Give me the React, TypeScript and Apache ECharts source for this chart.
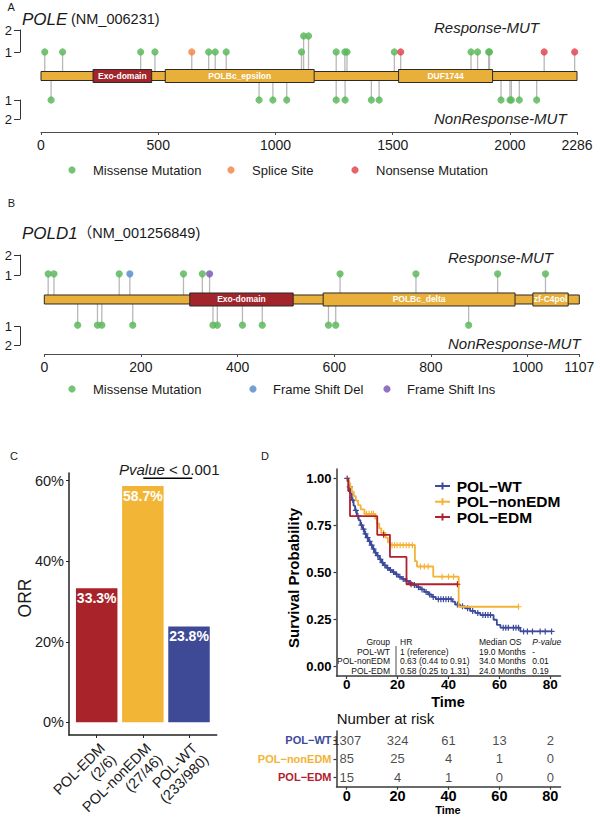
import React, { useEffect, useRef } from 'react';
import * as echarts from 'echarts';

const FONT = '"Liberation Sans", Arial, Helvetica, "Noto Sans CJK SC", sans-serif';

// ---------- Panel A : POLE ----------
const poleLength = 2286;
const poleTicks = [0, 500, 1000, 1500, 2000, 2286];
const poleDomainStart = [222, 530, 1525];
const poleDomainEnd = [472, 1165, 1926];
const poleDomainName = ['Exo-domain', 'POLBc_epsilon', 'DUF1744'];
const poleRespPos = [16, 92, 425, 486, 643, 715, 743, 790, 1111, 1120, 1141, 1259, 1296, 1305, 1507, 1534, 1834, 1862, 1909, 1913, 2146, 2276];
const poleRespCount = [1, 1, 1, 1, 1, 1, 1, 1, 1, 2, 2, 1, 1, 1, 1, 1, 1, 1, 1, 1, 1, 1];
const poleRespType = [0, 0, 0, 0, 1, 0, 0, 0, 0, 0, 0, 0, 0, 0, 0, 2, 0, 0, 0, 0, 2, 2];
const poleNonPos = [43, 930, 989, 1048, 1259, 1297, 1409, 1442, 1962, 2000, 2006, 2040, 2114];
const poleNonCount = [1, 1, 1, 1, 1, 1, 1, 1, 1, 1, 1, 1, 1];
const poleNonType = [0, 0, 0, 0, 0, 0, 0, 0, 0, 0, 0, 0, 0];

// ---------- Panel B : POLD1 ----------
const pold1Length = 1107;
const pold1Ticks = [0, 200, 400, 600, 800, 1000, 1107];
const pold1DomainStart = [301, 577, 1011];
const pold1DomainEnd = [515, 974, 1084];
const pold1DomainName = ['Exo-domain', 'POLBc_delta', 'zf-C4pol'];
const pold1RespPos = [8, 20, 155, 177, 288, 327, 342, 612, 769, 938, 1037];
const pold1RespCount = [1, 1, 1, 1, 1, 1, 1, 1, 1, 1, 1];
const pold1RespType = [0, 0, 0, 3, 0, 0, 4, 0, 0, 0, 0];
const pold1NonPos = [69, 110, 119, 183, 349, 358, 410, 451, 588, 603, 878];
const pold1NonCount = [1, 1, 1, 1, 1, 1, 1, 1, 1, 1, 1];
const pold1NonType = [0, 0, 0, 0, 0, 0, 0, 0, 0, 0, 0];

const mutTypes = ['Missense Mutation', 'Splice Site', 'Nonsense Mutation', 'Frame Shift Del', 'Frame Shift Ins'];
const mutColors = ['#5DB85D', '#F4874B', '#E4464F', '#5B8FCB', '#8059B8'];

// ---------- Panel C : ORR ----------
const cCategories = ['POL-EDM\n(2/6)', 'POL-nonEDM\n(27/46)', 'POL-WT\n(233/980)'];
const cValues = [33.3, 58.7, 23.8];
const cTicks = [0, 20, 40, 60];
const groupColors = ['#A9232A', '#F2B536', '#3E4A96'];

// ---------- Panel D : Kaplan-Meier ----------
const wtTime = [0, 0.4, 0.9, 1.4, 2.0, 2.7, 3.3, 4.0, 4.7, 5.4, 6.2, 7.0, 7.8, 8.6, 9.4, 10.2, 11.0, 11.9, 12.8, 13.7, 14.6, 15.6, 16.7, 17.9, 19.0, 20.3, 21.6, 23.0, 24.5, 26.0, 27.5, 29.0, 30.5, 32.0, 33.5, 35.0, 41.5, 42.6, 44.5, 46.5, 48.5, 50.5, 52.5, 57.7, 59.0, 60.4, 68.2, 80.5];
const wtSurv = [1.0, 0.985, 0.955, 0.92, 0.885, 0.855, 0.83, 0.8, 0.778, 0.752, 0.73, 0.705, 0.685, 0.665, 0.645, 0.625, 0.605, 0.59, 0.57, 0.553, 0.538, 0.525, 0.513, 0.502, 0.49, 0.477, 0.466, 0.455, 0.444, 0.433, 0.422, 0.41, 0.397, 0.383, 0.37, 0.358, 0.345, 0.33, 0.32, 0.31, 0.296, 0.285, 0.274, 0.249, 0.222, 0.207, 0.187, 0.187];
const wtCensor = [0.2, 1.2, 2.4, 3.6, 4.4, 5.8, 6.6, 7.4, 8.2, 9.0, 9.8, 10.6, 11.4, 12.2, 13.2, 14.1, 15.0, 16.1, 17.2, 18.4, 19.6, 20.9, 22.2, 23.6, 25.0, 26.6, 28.2, 29.6, 31.2, 32.6, 34.0, 36.0, 37.0, 38.0, 39.0, 40.0, 41.0, 43.5, 45.5, 47.5, 49.5, 51.5, 53.5, 54.5, 55.5, 56.5, 61.5, 62.5, 63.5, 65.5, 66.5, 67.5, 69.5, 71, 73, 76, 78, 80.5];
const nonEdmTime = [0, 0.8, 1.4, 2.0, 2.8, 3.6, 4.5, 5.5, 7.0, 11.2, 12.0, 12.8, 13.6, 15.2, 16.2, 17.0, 26.8, 27.6, 34.0, 44.0, 67.5];
const nonEdmSurv = [1.0, 0.976, 0.953, 0.929, 0.906, 0.882, 0.858, 0.835, 0.812, 0.786, 0.76, 0.735, 0.71, 0.685, 0.66, 0.645, 0.56, 0.532, 0.478, 0.318, 0.318];
const nonEdmCensor = [7.8, 8.8, 9.8, 10.5, 14.5, 17.8, 18.8, 19.8, 21.0, 22.2, 23.4, 24.5, 25.8, 29.0, 30.5, 32.0, 37.5, 40.0, 42.0, 67.5];
const edmTime = [0, 0.6, 1.3, 12.0, 17.0, 23.5, 43.5];
const edmSurv = [1.0, 0.933, 0.8, 0.7, 0.583, 0.4375, 0.4375];
const edmCensor = [14.5, 25.3, 43.5];
const kmNames = ['POL\u2212WT', 'POL\u2212nonEDM', 'POL\u2212EDM'];
const kmXTicks = [0, 20, 40, 60, 80];
const kmYTicks = [0, 0.25, 0.5, 0.75, 1];

const tblGroup = ['Group', 'POL-WT', 'POL-nonEDM', 'POL-EDM'];
const tblHR = ['HR', '1 (reference)', '0.63 (0.44 to 0.91)', '0.58 (0.25 to 1.31)'];
const tblMedian = ['Median OS', '19.0 Months', '34.0 Months', '24.0 Months'];
const tblP = ['P-value', '-', '0.01', '0.19'];

const riskTimes = [0, 20, 40, 60, 80];
const riskWT = [1307, 324, 61, 13, 2];
const riskNonEdm = [85, 25, 4, 1, 0];
const riskEdm = [15, 4, 1, 0, 0];
const kmColors = ['#3C4A9C', '#F4B334', '#B2202C'];

const survAt = (times: number[], surv: number[], t: number) => {
  let s = surv[0];
  for (let i = 0; i < times.length; i++) if (times[i] <= t) s = surv[i];
  return s;
};

const PLUS = 'path://M4,0 H6 V4 H10 V6 H6 V10 H4 V6 H0 V4 H4 Z';

function proteinSeries(g: number, length: number, starts: number[], ends: number[], names: string[], domColors: string[]) {
  const data: number[][] = [[0, length, -1]];
  starts.forEach((s, i) => data.push([s, ends[i], i]));
  return {
    type: 'custom', xAxisIndex: g, yAxisIndex: g, z: 3, silent: true,
    data,
    renderItem: (params: any, api: any) => {
      const idx = api.value(2);
      const s = api.coord([api.value(0), 0]);
      const e = api.coord([api.value(1), 0]);
      const h = idx < 0 ? 9 : 13;
      const children: any[] = [{
        type: 'rect',
        shape: { x: s[0], y: s[1] - h / 2, width: e[0] - s[0], height: h },
        style: { fill: idx < 0 ? '#E9AF3B' : domColors[idx], stroke: '#2a2a2a', lineWidth: 1 },
      }];
      if (idx >= 0) {
        children.push({
          type: 'text', x: (s[0] + e[0]) / 2, y: s[1],
          style: { text: names[idx], fill: '#fff', fontSize: 8.5, fontWeight: 'bold', fontFamily: FONT, align: 'center', verticalAlign: 'middle' },
        });
      }
      return { type: 'group', children };
    },
  };
}

function mutData(pos: number[], count: number[], type: number[], side: number) {
  return pos.map((p, i) => [p, side, count[i], type[i]]);
}

function stemSeries(g: number, data: number[][]) {
  return {
    type: 'custom', xAxisIndex: g, yAxisIndex: g, z: 1, silent: true, data,
    renderItem: (params: any, api: any) => {
      const side = api.value(1);
      const base = api.coord([api.value(0), 0]);
      const lvl = api.coord([api.value(0), side]);
      const y = lvl[1] - side * (api.value(2) - 1) * 16;
      return {
        type: 'line',
        shape: { x1: base[0], y1: base[1] - side * 4.5, x2: base[0], y2: y },
        style: { stroke: '#B8B8B8', lineWidth: 1.3 },
      };
    },
  };
}

function dotSeries(g: number, data: number[][]) {
  return {
    type: 'custom', xAxisIndex: g, yAxisIndex: g, z: 5, silent: true, data,
    renderItem: (params: any, api: any) => {
      const side = api.value(1);
      const lvl = api.coord([api.value(0), side]);
      const y = lvl[1] - side * (api.value(2) - 1) * 16;
      return {
        type: 'circle',
        shape: { cx: lvl[0], cy: y, r: 3.6 },
        style: { fill: mutColors[api.value(3)], opacity: 0.85 },
      };
    },
  };
}

const hiddenX = (g: number) => ({ type: 'value', gridIndex: g, min: 0, max: 1, show: false });
const bracketY = (g: number, inverse: boolean) => ({
  type: 'value', gridIndex: g, min: 1, max: 2, interval: 1, inverse,
  axisLine: { show: true, onZero: false, lineStyle: { color: '#333', width: 1 } },
  axisTick: { show: true, length: 6, lineStyle: { color: '#333', width: 1 } },
  axisLabel: { show: true, fontSize: 13, color: '#1a1a1a', margin: 8, fontFamily: FONT, showMinLabel: true, showMaxLabel: true },
  splitLine: { show: false },
});
const protX = (g: number, max: number, ticks: number[]) => ({
  type: 'value', gridIndex: g, min: 0, max,
  axisLine: { show: true, onZero: false, lineStyle: { color: '#4d4d4d', width: 1 } },
  axisTick: { show: true, length: 3, customValues: ticks, lineStyle: { color: '#4d4d4d', width: 1 } },
  axisLabel: { show: true, customValues: ticks, formatter: (v: number) => String(v), fontSize: 14, color: '#1a1a1a', margin: 6, fontFamily: FONT },
  splitLine: { show: false },
});

const txt = (x: number, y: number, text: string, o: any = {}, extra: any = {}) => ({
  type: 'text', x, y, silent: true, ...extra,
  style: { text, fontFamily: FONT, fontSize: 13, fill: '#1a1a1a', align: 'left', verticalAlign: 'middle', ...o },
});
const dot = (cx: number, cy: number, color: string) => ({
  type: 'circle', silent: true, shape: { cx, cy, r: 3.6 }, style: { fill: color, opacity: 0.85 },
});

function buildOption() {
  const graphics: any[] = [];
  // panel letters
  graphics.push(txt(7.5, 7, 'A', { fontSize: 11 }));
  graphics.push(txt(7.8, 203, 'B', { fontSize: 11 }));
  graphics.push(txt(14, 456, 'C', { fontSize: 11, align: 'center' }));
  graphics.push(txt(265, 456, 'D', { fontSize: 11, align: 'center' }));
  // titles
  graphics.push(txt(22, 19, '{a|POLE} {b|(NM_006231)}', {
    rich: {
      a: { fontSize: 17, fontStyle: 'italic', fontFamily: FONT, fill: '#1a1a1a' },
      b: { fontSize: 14.5, fontFamily: FONT, fill: '#1a1a1a' },
    },
  }));
  graphics.push(txt(22, 233, '{a|POLD1}{b|\uFF08NM_001256849)}', {
    rich: {
      a: { fontSize: 17, fontStyle: 'italic', fontFamily: FONT, fill: '#1a1a1a' },
      b: { fontSize: 14.5, fontFamily: FONT, fill: '#1a1a1a' },
    },
  }));
  // response labels
  const it = { fontSize: 15, fontStyle: 'italic', fill: '#222' };
  graphics.push(txt(434, 27, 'Response-MUT', it));
  graphics.push(txt(434, 118, 'NonResponse-MUT', it));
  graphics.push(txt(448, 257, 'Response-MUT', it));
  graphics.push(txt(448, 343, 'NonResponse-MUT', it));
  // legends A
  const legA = [[72, 93, 0], [231, 252, 1], [355, 376, 2]];
  legA.forEach(([dx, tx, t]) => {
    graphics.push(dot(dx, 170, mutColors[t]));
    graphics.push(txt(tx, 170, mutTypes[t], { fontSize: 13 }));
  });
  const legB = [[72, 93, 0], [253, 273, 3], [387, 407, 4]];
  legB.forEach(([dx, tx, t]) => {
    graphics.push(dot(dx, 389, mutColors[t]));
    graphics.push(txt(tx, 389, mutTypes[t], { fontSize: 13 }));
  });
  // panel C annotations
  graphics.push(txt(25, 598, 'ORR', { fontSize: 17.5, align: 'center' }, { rotation: Math.PI / 2 }));
  graphics.push(txt(119, 469, '{i|Pvalue} < 0.001', {
    fontSize: 15, rich: { i: { fontStyle: 'italic', fontSize: 15, fontFamily: FONT, fill: '#1a1a1a' } },
  }));
  graphics.push({ type: 'line', silent: true, shape: { x1: 143.3, y1: 478.3, x2: 192.3, y2: 478.3 }, style: { stroke: '#000', lineWidth: 1.6 } });
  // panel D
  graphics.push(txt(293, 578, 'Survival Probability', { fontSize: 15, fontWeight: 'bold', fill: '#000', align: 'center' }, { rotation: Math.PI / 2 }));
  graphics.push(txt(448, 701.5, 'Time', { fontSize: 14.5, fontWeight: 'bold', fill: '#000', align: 'center' }));
  const legY = [486, 501.7, 517];
  kmNames.forEach((n, i) => {
    graphics.push({ type: 'line', silent: true, shape: { x1: 435, y1: legY[i], x2: 450, y2: legY[i] }, style: { stroke: kmColors[i], lineWidth: 2 } });
    graphics.push({ type: 'line', silent: true, shape: { x1: 442.5, y1: legY[i] - 3.5, x2: 442.5, y2: legY[i] + 3.5 }, style: { stroke: kmColors[i], lineWidth: 2 } });
    graphics.push(txt(456.7, legY[i], n, { fontSize: 15.5, fontWeight: 'bold', fill: '#000' }));
  });
  const rowY = [642, 651.7, 661.3, 671];
  const tf = { fontSize: 8.5, fill: '#111' };
  rowY.forEach((y, i) => {
    graphics.push(txt(390, y, tblGroup[i], { ...tf, align: 'right' }));
    graphics.push(txt(400, y, tblHR[i], tf));
    graphics.push(txt(479, y, tblMedian[i], tf));
    graphics.push(txt(532.3, y, tblP[i], i === 0 ? { ...tf, fontStyle: 'italic' } : tf));
  });
  graphics.push({ type: 'line', silent: true, shape: { x1: 396, y1: 646, x2: 396, y2: 675.5 }, style: { stroke: '#222', lineWidth: 0.8 } });
  graphics.push(txt(336.7, 718.3, 'Number at risk', { fontSize: 15, fill: '#111' }));
  graphics.push(txt(448, 809.8, 'Time', { fontSize: 11, fontWeight: 'bold', fill: '#000', align: 'center' }));

  const kmAxisLine = { show: true, onZero: false, lineStyle: { color: '#3a3a3a', width: 1.5 } };
  const kmTick = { show: true, length: 3, lineStyle: { color: '#3a3a3a', width: 1.2 } };

  const kmSeries: any[] = [];
  const kmSets = [
    [wtTime, wtSurv, wtCensor],
    [nonEdmTime, nonEdmSurv, nonEdmCensor],
    [edmTime, edmSurv, edmCensor],
  ];
  kmSets.forEach(([t, s, c], i) => {
    kmSeries.push({
      type: 'line', name: kmNames[i], xAxisIndex: 7, yAxisIndex: 7, step: 'end', showSymbol: false, silent: true,
      data: t.map((v, k) => [v, s[k]]), lineStyle: { color: kmColors[i], width: 1.8 }, z: 2 + i,
    });
    kmSeries.push({
      type: 'scatter', xAxisIndex: 7, yAxisIndex: 7, symbol: PLUS, symbolSize: 6, silent: true, z: 2 + i,
      data: c.map((v) => [v, survAt(t, s, v)]), itemStyle: { color: kmColors[i], opacity: 1 },
    });
  });

  const riskData: any[] = [];
  [riskWT, riskNonEdm, riskEdm].forEach((arr, gi) => arr.forEach((n, k) => riskData.push([riskTimes[k], gi, n])));

  const grid = [
    { left: 41, top: 28, width: 536, height: 104 },
    { left: 20, top: 30, width: 1, height: 22 },
    { left: 20, top: 100, width: 1, height: 19 },
    { left: 44.3, top: 250, width: 535, height: 104 },
    { left: 20, top: 255, width: 1, height: 20 },
    { left: 20, top: 326.7, width: 1, height: 18.3 },
    { left: 69, top: 473, width: 147.7, height: 262 },
    { left: 336.5, top: 469, width: 224, height: 207 },
    { left: 336.5, top: 731, width: 224, height: 55.7 },
  ].map((g) => ({ ...g, containLabel: false, outerBoundsMode: 'none', show: false }));

  const option: any = {
    animation: false,
    backgroundColor: '#fff',
    textStyle: { fontFamily: FONT },
    grid,
    xAxis: [
      protX(0, poleLength, poleTicks),
      hiddenX(1), hiddenX(2),
      protX(3, pold1Length, pold1Ticks),
      hiddenX(4), hiddenX(5),
      {
        type: 'value', gridIndex: 6, min: 0.4, max: 3.6,
        axisLine: { show: true, onZero: false, lineStyle: { color: '#222', width: 1.5 } },
        axisTick: { show: true, length: 3, customValues: [1, 2, 3], lineStyle: { color: '#222' } },
        axisLabel: {
          show: true, customValues: [1, 2, 3], formatter: (v: number) => cCategories[Math.round(v) - 1],
          rotate: 45, align: 'right', verticalAlign: 'top', fontSize: 14.5, lineHeight: 16, color: '#1a1a1a', margin: 5, fontFamily: FONT,
        },
        splitLine: { show: false },
      },
      {
        type: 'value', gridIndex: 7, min: -4, max: 84,
        axisLine: kmAxisLine, axisTick: { ...kmTick, customValues: kmXTicks },
        axisLabel: { customValues: kmXTicks, fontSize: 13.5, fontWeight: 'bold', color: '#000', margin: 2, fontFamily: FONT },
        splitLine: { show: false },
      },
      {
        type: 'value', gridIndex: 8, min: -4, max: 84,
        axisLine: kmAxisLine, axisTick: { ...kmTick, customValues: kmXTicks },
        axisLabel: { customValues: kmXTicks, fontSize: 14.5, fontWeight: 'bold', color: '#000', margin: 2, fontFamily: FONT },
        splitLine: { show: false },
      },
    ],
    yAxis: [
      { type: 'value', gridIndex: 0, min: -7 / 3, max: 2, show: false },
      bracketY(1, false), bracketY(2, true),
      { type: 'value', gridIndex: 3, min: -2.121, max: 1.926, show: false },
      bracketY(4, false), bracketY(5, true),
      {
        type: 'value', gridIndex: 6, min: -3.15, max: 61.91,
        axisLine: { show: true, onZero: false, lineStyle: { color: '#222', width: 1.5 } },
        axisTick: { show: true, length: 3, customValues: cTicks, lineStyle: { color: '#222' } },
        axisLabel: { show: true, customValues: cTicks, formatter: (v: number) => `${v}%`, fontSize: 14.5, color: '#1a1a1a', margin: 5, fontFamily: FONT },
        splitLine: { show: false },
      },
      {
        type: 'value', gridIndex: 7, min: -0.05, max: 1.05,
        axisLine: kmAxisLine, axisTick: { ...kmTick, customValues: kmYTicks },
        axisLabel: { customValues: kmYTicks, formatter: (v: number) => v.toFixed(2), fontSize: 13, fontWeight: 'bold', color: '#000', margin: 5, fontFamily: FONT },
        splitLine: { show: false },
      },
      {
        type: 'category', gridIndex: 8, inverse: true, data: kmNames,
        axisLine: kmAxisLine, axisTick: { show: true, length: 3, alignWithLabel: true, lineStyle: { color: '#3a3a3a', width: 1.2 } },
        axisLabel: { color: (v: string, i: number) => kmColors[i], fontWeight: 'bold', fontSize: 11, margin: 5, fontFamily: FONT },
        splitLine: { show: false },
      },
    ],
    series: [
      stemSeries(0, [...mutData(poleRespPos, poleRespCount, poleRespType, 1), ...mutData(poleNonPos, poleNonCount, poleNonType, -1)]),
      proteinSeries(0, poleLength, poleDomainStart, poleDomainEnd, poleDomainName, ['#A1252B', '#E9AF3B', '#E9AF3B']),
      dotSeries(0, [...mutData(poleRespPos, poleRespCount, poleRespType, 1), ...mutData(poleNonPos, poleNonCount, poleNonType, -1)]),
      stemSeries(3, [...mutData(pold1RespPos, pold1RespCount, pold1RespType, 1), ...mutData(pold1NonPos, pold1NonCount, pold1NonType, -1)]),
      proteinSeries(3, pold1Length, pold1DomainStart, pold1DomainEnd, pold1DomainName, ['#A1252B', '#E9AF3B', '#E9AF3B']),
      dotSeries(3, [...mutData(pold1RespPos, pold1RespCount, pold1RespType, 1), ...mutData(pold1NonPos, pold1NonCount, pold1NonType, -1)]),
      {
        type: 'bar', xAxisIndex: 6, yAxisIndex: 6, barWidth: 41.5, silent: true,
        data: cValues.map((v, i) => ({ value: [i + 1, v], itemStyle: { color: groupColors[i] } })),
        label: {
          show: true, position: 'insideTop', distance: 3, formatter: (p: any) => `${cValues[p.dataIndex].toFixed(1)}%`,
          color: '#fff', fontSize: 14, fontWeight: 'bold', fontFamily: FONT,
        },
      },
      ...kmSeries,
      {
        type: 'scatter', xAxisIndex: 8, yAxisIndex: 8, symbolSize: 1, silent: true,
        itemStyle: { color: 'transparent' },
        data: riskData,
        label: { show: true, position: 'inside', formatter: (p: any) => `${p.value[2]}`, fontSize: 13, color: '#1a1a1a', fontFamily: FONT },
      },
    ],
    graphic: { elements: graphics },
  };
  return option;
}

export default function App() {
  const ref = useRef<HTMLDivElement>(null);
  useEffect(() => {
    const chart = echarts.init(ref.current!, null, { renderer: 'svg' });
    chart.setOption(buildOption());
    return () => chart.dispose();
  }, []);
  return <div ref={ref} style={{ position: 'absolute', left: 0, top: 0, width: 600, height: 817, background: '#fff' }} />;
}
